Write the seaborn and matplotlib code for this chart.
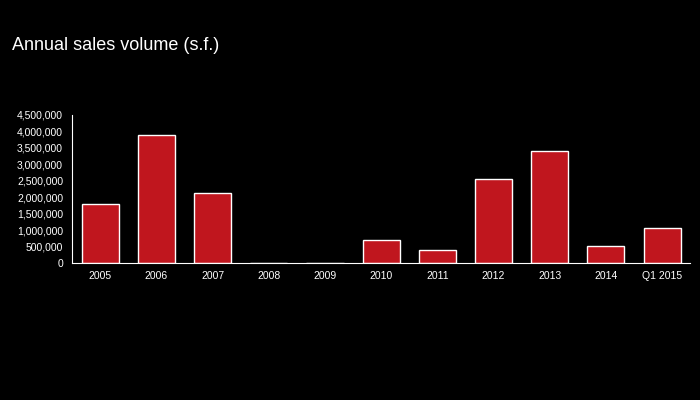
import matplotlib
matplotlib.use("Agg")
import matplotlib.pyplot as plt
import seaborn as sns
from matplotlib.ticker import FuncFormatter, MultipleLocator

years = ["2005", "2006", "2007", "2008", "2009", "2010", "2011", "2012", "2013", "2014", "Q1 2015"]
volume = [1790000, 3890000, 2130000, 0, 0, 700000, 400000, 2550000, 3400000, 520000, 1060000]

sns.set_style("dark")
plt.rcParams['font.family'] = ['Liberation Sans', 'DejaVu Sans']
fig = plt.figure(figsize=(7, 4), dpi=100, facecolor="black")
ax = fig.add_axes([0.103, 0.3425, 0.883, 0.37])
ax.set_facecolor("black")
sns.barplot(x=years, y=volume, color="#c0161e", saturation=1, width=0.66, ax=ax)
ax.set_ylim(0, 4500000)
ax.yaxis.set_major_locator(MultipleLocator(500000))
ax.yaxis.set_major_formatter(FuncFormatter(lambda v, p: f"{int(v):,}"))
ax.tick_params(colors="white", labelsize=7.5, length=3)
ax.tick_params(axis="x", length=0, pad=6)
ax.tick_params(axis="y", length=3, color="white")
for s in ["top", "right"]:
    ax.spines[s].set_visible(False)
for s in ["left", "bottom"]:
    ax.spines[s].set_visible(True)
    ax.spines[s].set_color("white")
    ax.spines[s].set_linewidth(0.8)
ax.grid(False)
fig.text(0.017, 0.885, "Annual sales volume (s.f.)", color="white", fontsize=13, va="center")
fig.savefig("out.png", facecolor="black")
